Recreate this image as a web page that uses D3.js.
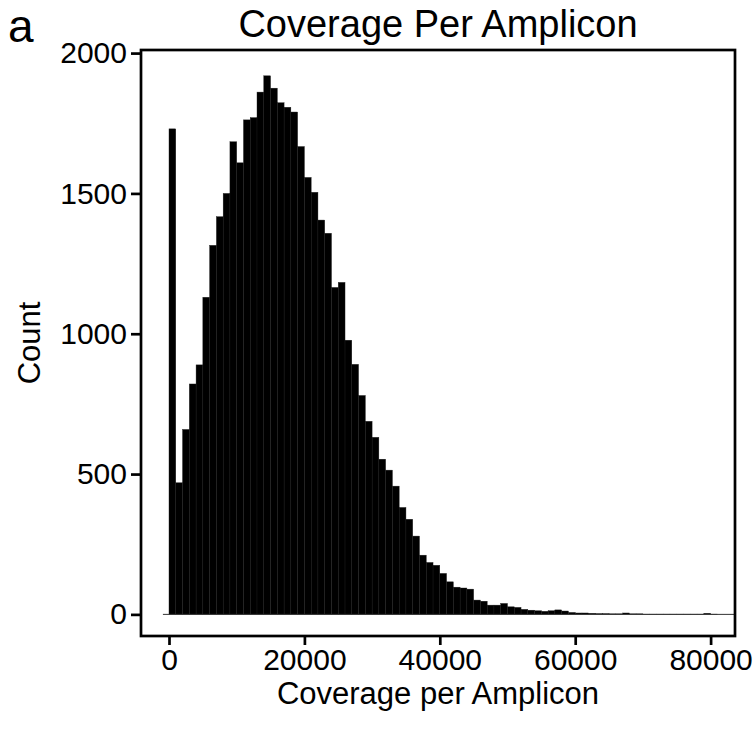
<!DOCTYPE html>
<html>
<head>
<meta charset="utf-8">
<script src="https://cdn.jsdelivr.net/npm/d3@7"></script>
<style>
  body { margin: 0; background: #fff; }
  text { font-family: "Liberation Sans", Arial, Helvetica, sans-serif; fill: #000; }
</style>
</head>
<body>
<div id="coverage"></div>
<script>
var totWidth = 753;
var totHeight = 729;

//-- Data: lower edge of each 1000-wide bin and its count
var binStarts = [0, 1000, 2000, 3000, 4000, 5000, 6000, 7000, 8000, 9000,
  10000, 11000, 12000, 13000, 14000, 15000, 16000, 17000, 18000, 19000,
  20000, 21000, 22000, 23000, 24000, 25000, 26000, 27000, 28000, 29000,
  30000, 31000, 32000, 33000, 34000, 35000, 36000, 37000, 38000, 39000,
  40000, 41000, 42000, 43000, 44000, 45000, 46000, 47000, 48000, 49000,
  50000, 51000, 52000, 53000, 54000, 55000, 56000, 57000, 58000, 59000,
  60000, 61000, 62000, 63000, 64000, 65000, 66000, 67000, 68000, 69000,
  70000, 71000, 72000, 73000, 74000, 75000, 76000, 77000, 78000, 79000, 80000];
var binWidth = 1000;
var counts = [1730, 469, 659, 821, 889, 1130, 1315, 1417, 1500, 1684,
  1609, 1762, 1770, 1861, 1919, 1875, 1823, 1807, 1790, 1667,
  1557, 1504, 1405, 1358, 1165, 1183, 977, 891, 780, 688,
  631, 553, 514, 457, 381, 339, 279, 211, 185, 175,
  146, 116, 97, 94, 90, 51, 47, 33, 33, 39,
  27, 25, 18, 15, 13, 11, 13, 16, 12, 7,
  5, 5, 4, 3, 3, 2, 2, 5, 2, 2,
  1, 1, 1, 1, 1, 1, 1, 1, 1, 4, 1];

var xTicks = [0, 20000, 40000, 60000, 80000];
var yTicks = [0, 500, 1000, 1500, 2000];

var data = binStarts.map(function(d, i) { return {x0: d, x1: d + binWidth, n: counts[i]}; });

//-- Plot frame
var frame = {left: 141, right: 735, top: 50, bottom: 636};

var svg = d3.select("#coverage")
  .append("svg")
    .attr("width", totWidth)
    .attr("height", totHeight);

var x = d3.scaleLinear()
  .domain([-4136, 83604])
  .range([frame.left, frame.right]);

var y = d3.scaleLinear()
  .domain([-77, 2011])
  .range([frame.bottom, frame.top]);

//-- Bars
svg.append("g")
  .selectAll("rect")
  .data(data)
  .enter().append("rect")
    .attr("x", function(d) { return x(d.x0); })
    .attr("width", function(d) { return x(d.x1) - x(d.x0); })
    .attr("y", function(d) { return y(d.n); })
    .attr("height", function(d) { return y(0) - y(d.n); })
    .attr("fill", "#000")
    .attr("stroke", "#1c1c1c")
    .attr("stroke-width", 0.4);

//-- Zero line
svg.append("line")
  .attr("x1", x(-900))
  .attr("x2", frame.right)
  .attr("y1", y(0))
  .attr("y2", y(0))
  .attr("stroke", "#333")
  .attr("stroke-width", 1);

//-- Axes
var xAxis = d3.axisBottom(x)
  .tickValues(xTicks)
  .tickSize(9)
  .tickSizeOuter(0)
  .tickPadding(4)
  .tickFormat(d3.format("d"));

var gx = svg.append("g")
  .attr("transform", "translate(0," + frame.bottom + ")")
  .call(xAxis);

var yAxis = d3.axisLeft(y)
  .tickValues(yTicks)
  .tickSize(10)
  .tickSizeOuter(0)
  .tickPadding(4)
  .tickFormat(d3.format("d"));

var gy = svg.append("g")
  .attr("transform", "translate(" + frame.left + ",0)")
  .call(yAxis);

[gx, gy].forEach(function(g) {
  g.select(".domain").remove();
  g.selectAll("line").attr("stroke", "#000").attr("stroke-width", 2.7);
  g.selectAll("text").style("font-size", "30px").attr("fill", "#000");
});

//-- Box round the panel
svg.append("rect")
  .attr("x", frame.left)
  .attr("y", frame.top)
  .attr("width", frame.right - frame.left)
  .attr("height", frame.bottom - frame.top)
  .attr("fill", "none")
  .attr("stroke", "#000")
  .attr("stroke-width", 2.7);

//-- Texts
svg.append("text")
  .attr("x", (frame.left + frame.right) / 2)
  .attr("y", 37)
  .attr("text-anchor", "middle")
  .style("font-size", "38px")
  .text("Coverage Per Amplicon");

svg.append("text")
  .attr("x", 8)
  .attr("y", 42)
  .style("font-size", "46px")
  .text("a");

svg.append("text")
  .attr("x", (frame.left + frame.right) / 2)
  .attr("y", 704)
  .attr("text-anchor", "middle")
  .style("font-size", "31px")
  .text("Coverage per Amplicon");

svg.append("text")
  .attr("text-anchor", "middle")
  .attr("transform", "translate(40," + ((frame.top + frame.bottom) / 2) + ")rotate(-90)")
  .style("font-size", "31px")
  .text("Count");
</script>
</body>
</html>
